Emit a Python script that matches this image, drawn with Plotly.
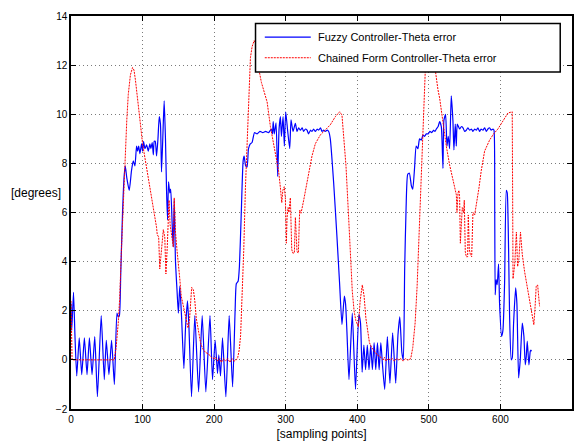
import plotly.graph_objects as go

# Fuzzy controller theta error (degrees) against sampling points
fuzzy_x = [0, 1, 3.5, 5.5, 8, 11.5, 15, 18.7, 22.4, 25.7, 29.4, 33.2, 36.9, 42.2, 46.5, 49.3, 53, 56.7, 60.6,
           64.2, 66, 67.6, 69.5, 72, 74.3, 75.8, 78, 81.4, 84.5, 87, 89.3, 91.6, 93, 94.5, 96.3, 98.6, 100,
           101.4, 103.3, 105.6, 108, 110.2, 111.6, 113.5, 115, 116.3, 117.7, 119.6, 121.5, 123.3, 125, 126.5,
           128.8, 130.2, 132, 133.5, 134.9, 136.3, 138, 139.3, 141.4, 142.8, 144.2, 146, 148, 150, 152, 154.4,
           157.7, 160, 162.8, 164.7, 168.4, 173, 178.3, 183.3, 188.4, 194.2, 197.7, 201.4, 204.7, 206.5, 208.9,
           211.7, 216.4, 221, 225.8, 229.3, 231, 233.5, 235.3, 237.7, 240.5, 241.9, 244, 246, 248, 250.7, 253,
           256.3, 260, 264, 268, 272, 276, 280, 281.5, 282.5, 284, 286.5, 288.8, 290.7, 292.6, 294, 296.3,
           298.1, 300, 302.8, 305.6, 307.4, 310.2, 313.5, 315.8, 318, 320.5, 323, 325, 327.5, 329.8, 332,
           334.5, 336.7, 339, 341.4, 344, 346, 348.5, 350.7, 353, 355.3, 358, 360, 362.3, 367, 371.6, 375.3,
           378.6, 381.9, 383.7, 385.6, 388.4, 393, 397.5, 402.2, 404.5, 406.8, 409.2, 411.6, 414, 416.4, 418.8,
           421.1, 423.5, 425.8, 428.2, 430.5, 432.9, 435.2, 438.3, 442, 445.6, 449.4, 453.7, 456.8, 459.4,
           462.3, 464.3, 466.2, 468.2, 470.4, 472.8, 475.5, 477.5, 480, 482.3, 484.7, 487, 489.5, 491.7, 494,
           496.4, 499, 501.5, 504, 506.5, 508.5, 510.5, 513, 515, 517.4, 519.7, 521, 523.4, 525.3, 527.1, 529,
           531.3, 533.6, 535, 536.9, 538.3, 539.7, 543, 545.5, 547.7, 550, 552.3, 554.5, 557, 559.5, 561.6,
           564, 566.3, 568.5, 570.9, 573, 575.6, 578, 580.3, 582.5, 584.9, 587, 589.6, 591, 592, 592.7, 594,
           595.5, 597.4, 598.8, 601.6, 603.5, 605.8, 608.2, 609.5, 611.4, 612.8, 615.1, 616.5, 618.4, 621.2,
           623, 625.4, 627.7, 630.5, 632.8, 634.7, 636, 637.5, 639.8, 641.7, 642.6, 643.5]
fuzzy_y = [2.3, 1.2, 2.75, 1.0, -0.65, 0.9, -0.6, 0.9, -0.6, 0.9, -0.6, 0.95, -1.5, 1.8, -0.8, 0.8, -0.6, 0.8, -1.0,
           1.9, 1.75, 1.8, 3.5, 6.0, 7.5, 7.9, 7.4, 6.9, 7.7, 8.1, 7.9, 8.7, 8.5, 8.7, 8.4, 8.8, 8.5,
           8.9, 8.6, 8.75, 8.5, 8.8, 8.6, 8.85, 8.35, 8.9, 8.9, 8.3, 9.0, 9.9, 9.6, 7.65,
           9.5, 10.55, 9.0, 6.9, 5.7, 7.25, 6.8, 6.95, 5.5, 4.6, 6.5, 4.0, 2.9, 1.9, 3.0, 1.8,
           -0.35, 1.3, 2.4, 1.4, -1.5, 1.8, -1.3, 1.8, -1.3, 1.8, -0.8, 0.8, -0.55, 0.2, -0.65,
           0.9, -1.5, 1.8, -1.1, 2.0, 3.1, 3.2, 3.8, 5.8, 8.1, 8.3, 7.9, 7.85, 8.6, 8.8, 8.85,
           9.25, 9.2, 9.3, 9.25, 9.3, 9.25, 9.4, 9.2, 9.7, 9.2, 9.65, 7.47, 9.4, 9.9, 9.1, 9.9,
           8.7, 10.1, 9.3, 8.6, 9.77, 9.3, 9.63, 9.3, 9.45, 9.35, 9.45, 9.3, 9.4, 9.35, 9.2,
           9.35, 9.3, 9.4, 9.3, 9.4, 9.35, 9.45, 9.3, 9.35, 9.3, 9.35, 9.3, 9.0, 7.2, 5.0, 3.1,
           1.44, 2.6, 2.25, 1.1, -0.8, 1.9, -1.2, 1.85, 1.5, -0.5, 0.6, -0.4, 0.6, -0.4, 0.6,
           -0.4, 0.7, -0.4, 0.7, -0.4, 0.7, -0.2, -1.2, 0.95, -0.95, 1.1, -0.95, 1.0, 1.75,
           0.3, 0.0, 3.7, 6.2, 7.55, 7.6, 7.1, 6.95, 7.8, 8.7, 8.6, 9.0, 8.95, 9.15, 9.1,
           9.2, 9.2, 9.3, 9.25, 9.35, 9.3, 9.4, 9.5, 9.7, 9.5, 7.8, 9.75, 10.0, 8.7, 9.1, 8.6,
           10.75, 9.75, 8.55, 9.6, 8.7, 9.6, 9.4, 9.5, 9.45, 9.3, 9.35, 9.45, 9.35, 9.4, 9.3,
           9.4, 9.35, 9.45, 9.3, 9.4, 9.35, 9.45, 9.3, 9.4, 9.45, 9.35, 9.4, 9.35, 6.5, 2.65, 3.27,
           3.06, 3.9, 2.3, 0.96, 1.2, 3.1, 6.9, 6.8, 4.5, 1.8, 0.0, 0.08, 1.5, 2.93,
           2.3, -0.73, 0.0, 1.5, 0.96, -0.2, 0.1, 0.76, -0.2, 0.35, 0.4, 0.35]

# Chained form controller theta error (degrees) against sampling points
chained_x = [0, 1.5, 60.5, 63, 66, 68, 70.5, 73, 75.3, 78, 80, 83, 86, 88, 90, 94, 97, 100, 103, 106, 110, 113,
             116, 119.5, 120.5, 122.5, 124, 126.5, 129, 131, 132.6, 134.5, 137, 138.5, 140.5, 143, 144.2, 146,
             148, 150, 152, 154, 157, 160, 163.5, 165.5, 167, 168.6, 171, 173, 175, 178, 181, 184, 188, 192,
             196, 200, 202, 205, 208, 210, 213, 216, 219, 222, 225, 228, 231, 233, 235, 237, 239, 241.4, 243.7,
             246, 248.4, 250.7, 253, 256, 259, 263, 266, 269.3, 274, 278.6, 283, 287, 290, 292.6, 294.5, 296,
             298, 299.5, 300.9, 301.9, 303.3, 304.5, 306.5, 308.4, 309.8, 312.1, 313.5, 315.8, 317.7, 319.5,
             321.4, 325.1, 328.8, 332.1, 336.7, 341.4, 348.4, 355.3, 362.3, 369.3, 375.3, 378.6, 380.9, 384.2,
             387.9, 390.2, 393, 395.5, 398, 401.5, 404, 407, 409.5, 412, 414.5, 417, 420, 424, 428, 433, 436,
             438, 440, 443, 446, 449, 452, 455, 458, 461, 464, 467, 470, 473, 475, 477.5, 480.8, 483.6, 486.9,
             490.1, 493, 495.3, 497.5, 500, 503, 506, 509.4, 512.7, 515.1, 519.8, 524.4, 529, 533.7, 536,
             538.4, 539.3, 540.7, 542, 543, 544, 545.3, 546.7, 548.6, 549.5, 550.9, 552.3, 554.2, 555.1, 556.5,
             557.9, 559.8, 561.6, 564, 566.3, 570, 573.2, 577.9, 584.9, 590.5, 596.5, 603.5, 610.5, 616.5,
             617.2, 617.6, 620, 622.3, 624, 625.8, 628, 629, 630.5, 633.7, 638.3, 643, 646.7, 648.5, 650, 652,
             654.7]
chained_y = [2.4, 0.0, 0.0, 0.5, 1.5, 2.5, 4.5, 6.5, 8.0, 9.8, 10.8, 11.6, 11.9, 11.8, 11.4, 10.5, 9.6, 8.8, 8.3,
             7.7, 7.0, 6.5, 6.1, 5.4, 5.1, 5.0, 3.7, 4.4, 5.3, 5.0, 3.5, 4.6, 6.5, 5.5, 5.0, 4.6, 6.6, 5.2,
             4.5, 4.0, 3.3, 2.6, 2.2, 1.8, 1.3, 1.6, 2.5, 2.95, 2.85, 2.4, 1.7, 1.1, 0.7, 0.45, 0.3, 0.25,
             0.1, 0.05, 0.1, -0.05, 0.05, -0.1, 0.05, -0.05, 0.05, -0.1, 0.05, -0.05, 0.0, 0.1, 0.4, 1.0, 2.3,
             4.5, 7.0, 9.0, 11.0, 12.3, 12.75, 13.0, 12.8, 11.75, 11.3, 11.0, 10.5, 9.5, 8.8, 8.2, 7.7, 7.0,
             6.4, 6.9, 7.05, 6.6, 4.75, 5.8, 6.2, 6.0, 6.6, 4.5, 4.35, 4.35, 5.8, 4.4, 4.35, 6.1, 5.97,
             6.5, 7.05, 7.5, 8.3, 8.8, 9.16, 9.36, 9.57, 9.9, 10.1, 9.97, 9.2, 7.9, 5.8, 4.2, 2.8, 2.0,
             1.6, 1.35, 2.4, 3.05, 2.6, 1.7, 1.1, 0.7, 0.5, 0.33, 0.2, 0.1, 0.0, 0.1, -0.05, 0.05, 0.0,
             0.05, -0.05, 0.05, 0.0, 0.05, -0.05, 0.05, 0.0, 0.0, 0.1, 0.5, 1.5, 3.0, 5.5, 8.0, 10.5,
             12.0, 12.8, 13.2, 13.1, 12.4, 11.7, 11.0, 10.65, 9.63, 8.7, 7.94, 7.33, 7.06, 6.72, 6.0, 6.8,
             6.9, 6.6, 4.75, 5.6, 6.2, 6.0, 6.5, 4.4, 4.2, 4.2, 5.9, 4.5, 4.3, 4.2, 6.0, 5.9, 6.3, 7.0,
             7.7, 8.5, 8.95, 9.2, 9.4, 9.75, 10.05, 10.1, 6.0, 3.3, 3.9, 5.2, 3.8, 4.1, 5.2, 4.6, 4.3,
             3.6, 2.8, 2.05, 1.43, 2.2, 3.0, 3.05, 2.18]

x_ticks = [0, 100, 200, 300, 400, 500, 600, 700]
y_ticks = [-2, 0, 2, 4, 6, 8, 10, 12, 14]

FONT = "Liberation Sans, Arial, Helvetica, sans-serif"

FUZZY_NAME = "Fuzzy Controller-Theta error"
CHAINED_NAME = "Chained Form Controller-Theta error"
FUZZY_LINE = dict(color="#0000ff", width=1.2)
CHAINED_LINE = dict(color="#ff0000", width=1, dash="2px,1px")

fig = go.Figure()
fig.add_trace(go.Scatter(
    x=fuzzy_x, y=fuzzy_y, mode="lines", name=FUZZY_NAME, showlegend=False,
    line=dict(**FUZZY_LINE, shape="spline", smoothing=0.5),
))
fig.add_trace(go.Scatter(
    x=chained_x, y=chained_y, mode="lines", name=CHAINED_NAME, showlegend=False,
    line=CHAINED_LINE,
))

axis_common = dict(
    showline=True, linecolor="black", linewidth=1.5, mirror="allticks",
    ticks="inside", ticklen=5, tickwidth=1, tickcolor="black",
    showgrid=True, gridcolor="#7a7a7a", gridwidth=1, griddash="1px,3px",
    zeroline=False, automargin=False,
    tickfont=dict(family=FONT, size=10, color="black"),
)

# Legend box in the upper right of the axes, drawn over the curves
box_x0, box_x1, box_y0, box_y1 = 0.3683, 0.9765, 0.8577, 0.9807
sample_x0, sample_x1, text_x = 0.3868, 0.4786, 0.4885
row_y = [0.9464, 0.8938]

shapes = [
    dict(type="rect", xref="paper", yref="paper", x0=box_x0, x1=box_x1, y0=box_y0, y1=box_y1,
         fillcolor="white", line=dict(color="black", width=1.5), layer="above"),
    dict(type="line", xref="paper", yref="paper", x0=sample_x0, x1=sample_x1, y0=row_y[0], y1=row_y[0],
         line=FUZZY_LINE, layer="above"),
    dict(type="line", xref="paper", yref="paper", x0=sample_x0, x1=sample_x1, y0=row_y[1], y1=row_y[1],
         line=CHAINED_LINE, layer="above"),
]

annotations = [
    dict(text=FUZZY_NAME, xref="paper", yref="paper", x=text_x, y=row_y[0],
         xanchor="left", yanchor="middle", showarrow=False,
         font=dict(family=FONT, size=11, color="black")),
    dict(text=CHAINED_NAME, xref="paper", yref="paper", x=text_x, y=row_y[1],
         xanchor="left", yanchor="middle", showarrow=False,
         font=dict(family=FONT, size=11, color="black")),
    dict(text="[degrees]", xref="paper", yref="paper", x=-0.07, y=0.5495,
         xanchor="center", yanchor="middle", showarrow=False,
         font=dict(family=FONT, size=12, color="black")),
]

fig.update_layout(
    width=579, height=441,
    margin=dict(l=71, r=7, t=16, b=32),
    paper_bgcolor="white", plot_bgcolor="white",
    font=dict(family=FONT, color="black"),
    showlegend=False,
    xaxis=dict(range=[0, 700], tickvals=x_ticks,
               title=dict(text="[sampling points]", font=dict(size=12), standoff=10),
               **axis_common),
    yaxis=dict(range=[-2, 14], tickvals=y_ticks, **axis_common),
    shapes=shapes,
    annotations=annotations,
)

fig.write_html("out.html")
